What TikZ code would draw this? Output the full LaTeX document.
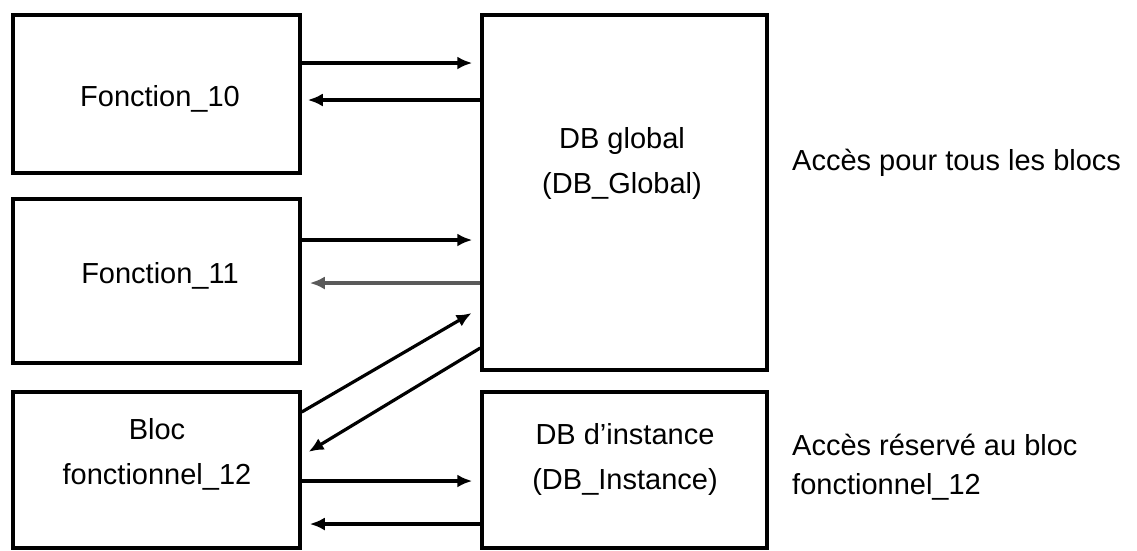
\documentclass[tikz,border=0pt]{standalone}
\usepackage{fontspec}
\setmainfont{Liberation Sans}
\usetikzlibrary{arrows.meta}
\definecolor{darkg}{RGB}{90,90,90}
\tikzset{
  box/.style={draw=black, line width=3.5pt, minimum width=287pt, inner sep=0pt},
  lbl/.style={font=\fontsize{29}{45}\selectfont, align=center, inner sep=0pt},
  side/.style={font=\fontsize{29}{39}\selectfont, align=left, anchor=west, inner sep=0pt},
  arr/.style={line width=3.2pt, -{Latex[length=15pt,width=13pt]}},
}
\begin{document}
\begin{tikzpicture}[x=1pt,y=-1pt]
\useasboundingbox (0,0) rectangle (1137,550);
% boxes
\node[box, minimum height=158pt] (f10) at (156.5,94) {};
\node[box, minimum height=164pt] (f11) at (156.5,281) {};
\node[box, minimum height=156pt] (fb) at (156.5,470) {};
\node[box, minimum width=285pt, minimum height=355pt] (dbg) at (624.5,192.5) {};
\node[box, minimum width=285pt, minimum height=156pt] (dbi) at (624.5,470) {};
% texts
\node[lbl] (t10) at (160,99) {Fonction\_10};
\node[lbl] (t11) at (160,276) {Fonction\_11};
\node[lbl] (tb) at (157,454) {Bloc\\fonctionnel\_12};
\node[lbl] (tg) at (622,163) {DB global\\(DB\_Global)};
\node[lbl] (ti) at (625,459) {DB d'instance\\(DB\_Instance)};
\node[side] (s1) at (792,163) {Accès pour tous les blocs};
\node[side] (s2) at (792,467) {Accès réservé au bloc\\fonctionnel\_12};
% helper heights
\coordinate (y1) at (0,63);
\coordinate (y2) at (0,100);
\coordinate (y3) at (0,240);
\coordinate (y4) at (0,283);
\coordinate (y5) at (0,412);
\coordinate (y6) at (0,308);
\coordinate (y7) at (0,348);
\coordinate (y8) at (0,456);
\coordinate (y9) at (0,481);
\coordinate (y10) at (0,524);
% connectors
\draw[arr, shorten >=8pt] (f10.east |- y1) -- (dbg.west |- y1);
\draw[arr, shorten >=6pt] (dbg.west |- y2) -- (f10.east |- y2);
\draw[arr, shorten >=8pt] (f11.east |- y3) -- (dbg.west |- y3);
\draw[arr, draw=darkg, line width=3.8pt, shorten >=8pt] (dbg.west |- y4) -- (f11.east |- y4);
\draw[arr, shorten >=10pt] (fb.east |- y5) -- (dbg.west |- y6);
\draw[arr, shorten >=8pt] (dbg.west |- y7) -- (fb.east |- y8);
\draw[arr, shorten >=8pt] (fb.east |- y9) -- (dbi.west |- y9);
\draw[arr, shorten >=8pt] (dbi.west |- y10) -- (fb.east |- y10);
\end{tikzpicture}
\end{document}
